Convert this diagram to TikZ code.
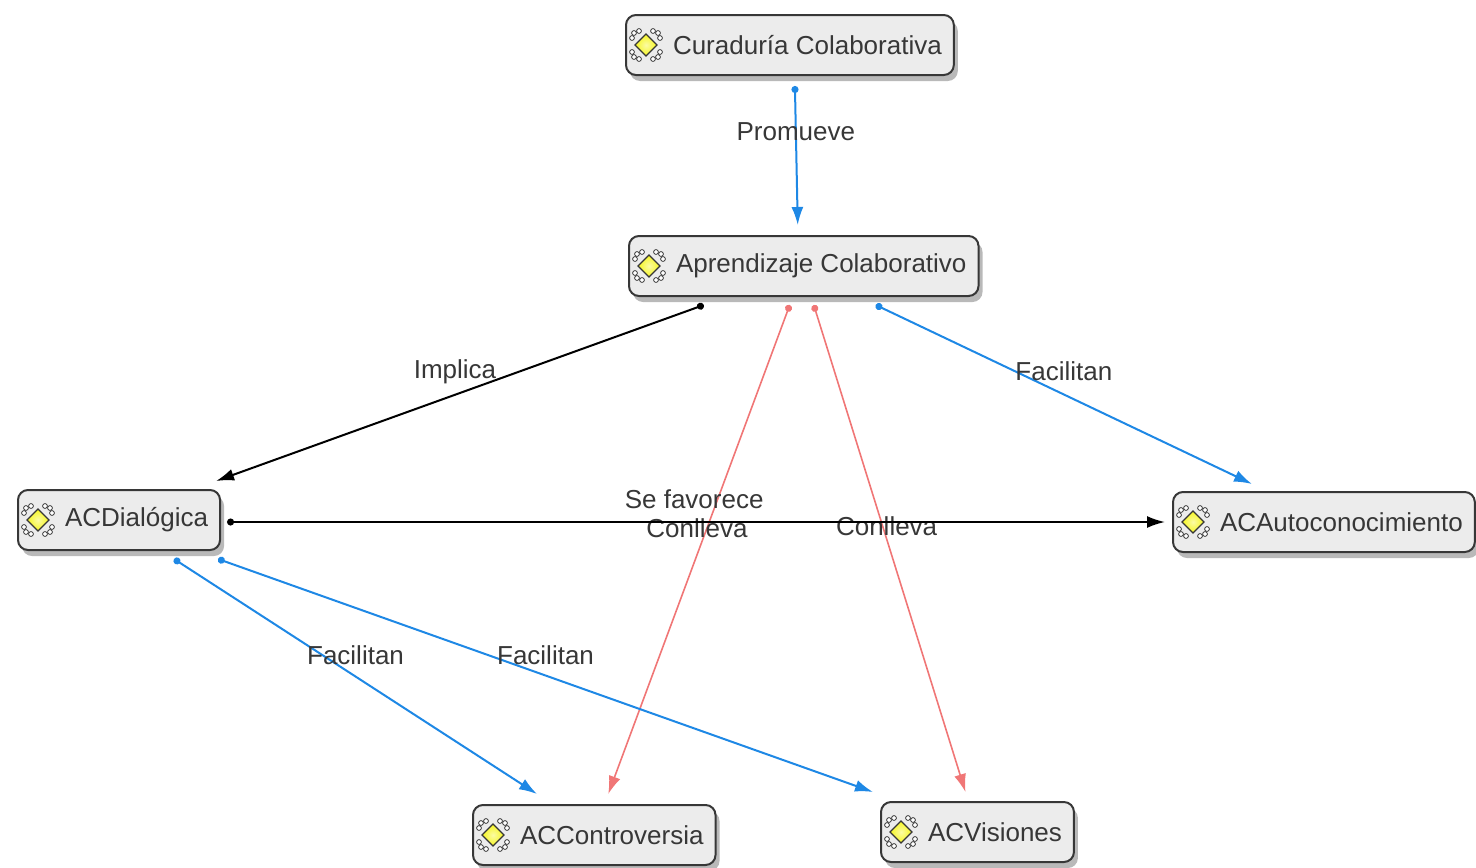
\documentclass[tikz,border=0pt]{standalone}
\usepackage{fontspec}
\setmainfont{Liberation Sans}
\usetikzlibrary{arrows.meta,calc,shadows}
\definecolor{LinkBlue}{RGB}{30,136,229}
\definecolor{LinkRed}{RGB}{240,118,118}
\definecolor{BoxGray}{RGB}{236,236,236}
\definecolor{EdgeGray}{RGB}{55,55,55}
\definecolor{TextGray}{RGB}{55,55,55}
\definecolor{IconYellow}{RGB}{246,246,30}

\tikzset{
  concept/.style={draw=EdgeGray, line width=1pt, fill=BoxGray, rounded corners=5pt,
    minimum height=30pt, inner xsep=6pt, anchor=west, text=TextGray,
    font=\fontsize{13}{15}\selectfont,
    drop shadow={shadow xshift=2pt, shadow yshift=-3pt, opacity=0.55}},
  link/.style={line width=1pt, {Circle[length=3.5pt]}-{Latex[length=9pt,width=6pt]}},
  linklabel/.style={font=\fontsize{13}{15}\selectfont, text=TextGray},
  cmicon/.pic={
    \foreach \sx in {-1,1}{
      \foreach \sy in {-1,1}{
        \draw[EdgeGray, fill=white, line width=0.4pt] (\sx*7,\sy*14) circle (1.2pt);
        \draw[EdgeGray, fill=white, line width=0.4pt] (\sx*12,\sy*12) circle (1.2pt);
        \draw[EdgeGray, fill=white, line width=0.4pt] (\sx*14,\sy*7) circle (1.2pt);
      }
    }
    \draw[EdgeGray, line width=0.6pt, inner color=IconYellow!40, outer color=IconYellow]
      (0,-11) -- (11,0) -- (0,11) -- (-11,0) -- cycle;
  }
}

\begin{document}
\begin{tikzpicture}[x=0.5pt, y=-0.5pt]
\useasboundingbox (0,0) rectangle (1476,867);
\clip (0,0) rectangle (1476,867);
% concepts
\node[concept] (cur) at (625,45) {\hspace*{17.5pt}Curaduría Colaborativa};
\node[concept] (apr) at (628,266) {\hspace*{17.5pt}Aprendizaje Colaborativo};
\node[concept] (dia) at (17,520) {\hspace*{17.5pt}ACDialógica};
\node[concept] (aut) at (1172,522) {\hspace*{17.5pt}ACAutoconocimiento};
\node[concept] (con) at (472,835) {\hspace*{17.5pt}ACControversia};
\node[concept] (vis) at (880,832) {\hspace*{17.5pt}ACVisiones};
\foreach \n in {cur,apr,dia,aut,con,vis}
  \pic at ($(\n.west)+(21,0)$) {cmicon};

% links
\draw[link, LinkBlue] ($(cur.south)+(5,10)$) -- node[linklabel, pos=0.33] (lpro) {Promueve} ($(apr.north)+(-6,-10)$);
\draw[link, black] ($(apr.south)+(-100,8)$) -- node[linklabel, pos=0.51, yshift=11.5pt] (limp) {Implica} ($(dia.north east)+(-5,-8)$);
\draw[link, LinkBlue] ($(apr.south)+(72,8)$) -- node[linklabel, pos=0.5, yshift=11.5pt] (lfa1) {Facilitan} ($(aut.north west)+(80,-7)$);
\draw[link, LinkRed, line width=0.8pt] ($(apr.south)+(-14,8)$) -- node[linklabel, pos=0.456, xshift=-5pt] (lcon1) {Conlleva} ($(con.north)+(14,-10)$);
\draw[link, LinkRed, line width=0.8pt] ($(apr.south)+(10,8)$) -- node[linklabel, pos=0.454, xshift=2pt] (lcon2) {Conlleva} ($(vis.north)+(-12,-9)$);
\draw[link, black] ($(dia.east)+(6,2)$) -- node[linklabel, pos=0.498, yshift=11.5pt] (lfav) {Se favorece} ($(aut.west)+(-7,0)$);
\draw[link, LinkBlue] ($(dia.south)+(55,8)$) -- node[linklabel, pos=0.5, yshift=10.5pt] (lfa2) {Facilitan} ($(con.north west)+(65,-10)$);
\draw[link, LinkBlue] ($(dia.south east)+(-3,8)$) -- node[linklabel, pos=0.5, yshift=10pt] (lfa3) {Facilitan} ($(vis.north west)+(-7,-9)$);
\end{tikzpicture}
\end{document}
